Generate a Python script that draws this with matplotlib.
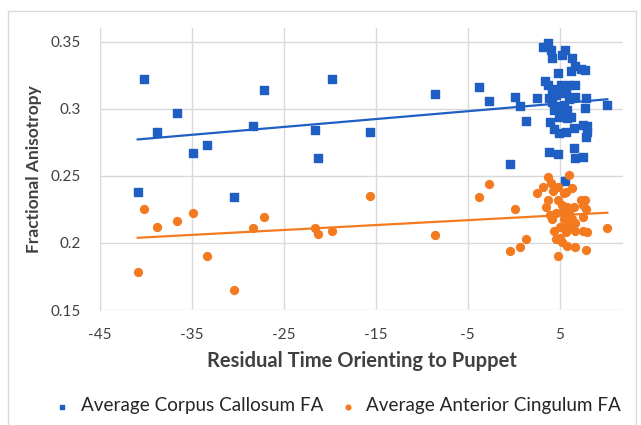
import numpy as np
import matplotlib.pyplot as plt
from matplotlib.patches import Rectangle

# Average Corpus Callosum FA
cc_x = [-40.9, -40.2, -38.8, -36.6, -34.9, -33.4, -30.4, -28.3, -27.2, -21.6, -21.3,
        -19.8, -15.6, -8.6, -3.8, -2.7, -0.4, 0.2, 0.7, 1.4, 2.5, 10.2,
        3.2, 3.7, 4.1, 4.2, 5.6, 5.3, 6.4, 4.8, 6.2, 6.7, 7.3, 7.8, 3.4, 3.7, 4.2,
        5.2, 6.0, 6.7, 3.8, 4.2, 4.6, 5.1, 5.7, 4.8, 5.5, 6.0, 6.7, 7.9, 7.8, 5.1,
        4.4, 5.8, 4.9, 5.8, 6.2, 4.0, 4.4, 4.9, 5.7, 6.6, 7.6, 8.0, 8.0, 7.9, 3.8,
        4.8, 6.6, 7.6, 6.7, 5.6]
cc_fa = [0.238, 0.322, 0.283, 0.297, 0.267, 0.273, 0.234, 0.287, 0.314, 0.284, 0.263,
         0.322, 0.283, 0.311, 0.316, 0.306, 0.259, 0.309, 0.302, 0.291, 0.308, 0.303,
         0.346, 0.349, 0.344, 0.338, 0.344, 0.340, 0.338, 0.327, 0.328, 0.332, 0.330,
         0.329, 0.321, 0.318, 0.315, 0.318, 0.318, 0.318, 0.308, 0.305, 0.310, 0.312,
         0.313, 0.302, 0.303, 0.307, 0.309, 0.308, 0.301, 0.298, 0.299, 0.299, 0.294,
         0.293, 0.294, 0.290, 0.285, 0.282, 0.283, 0.286, 0.288, 0.287, 0.283, 0.279,
         0.268, 0.266, 0.271, 0.264, 0.263, 0.246]

# Average Anterior Cingulum FA
ac_x = [-40.9, -40.2, -38.8, -36.6, -34.9, -33.4, -30.4, -28.3, -27.2, -21.6, -21.3,
        -19.8, -15.6, -8.6, -3.8, -2.7, -0.4, 0.2, 0.7, 1.4, 2.5, 10.2,
        3.7, 3.2, 4.1, 4.8, 4.3, 6.0, 6.3, 5.7, 5.5, 3.7, 4.8, 3.5, 5.3, 5.8, 6.6,
        7.3, 7.8, 7.9, 7.5, 4.0, 4.6, 5.3, 6.0, 5.5, 6.4, 5.8, 6.7, 7.6, 4.2, 5.1,
        6.0, 4.4, 6.7, 7.6, 8.0, 5.7, 4.6, 5.1, 5.3, 5.8, 6.7, 7.9, 4.8]
ac_fa = [0.178, 0.225, 0.212, 0.216, 0.222, 0.190, 0.165, 0.211, 0.219, 0.211, 0.207,
         0.209, 0.235, 0.206, 0.234, 0.244, 0.194, 0.225, 0.197, 0.203, 0.237, 0.211,
         0.249, 0.242, 0.245, 0.242, 0.239, 0.251, 0.241, 0.238, 0.237, 0.232, 0.232,
         0.227, 0.228, 0.227, 0.227, 0.232, 0.232, 0.225, 0.228, 0.221, 0.222, 0.223,
         0.222, 0.218, 0.218, 0.215, 0.215, 0.219, 0.218, 0.212, 0.211, 0.209, 0.209,
         0.209, 0.208, 0.208, 0.203, 0.204, 0.201, 0.198, 0.197, 0.195, 0.190]

x_ticks = [-45, -35, -25, -15, -5, 5]
y_ticks = [0.15, 0.2, 0.25, 0.3, 0.35]
y_tick_labels = ['0.15', '0.2', '0.25', '0.3', '0.35']

BLUE = '#1f5fc4'
ORANGE = '#f47a20'
GRID = '#d9d9d9'
TEXT = '#404040'

plt.rcParams['font.family'] = ['Lato', 'DejaVu Sans']
plt.rcParams['axes.unicode_minus'] = False


def trendline(ax, x, y, color):
    x = np.asarray(x)
    k, b = np.polyfit(x, y, 1)
    xs = np.array([x.min(), x.max()])
    ax.plot(xs, k * xs + b, color=color, lw=1.6, zorder=2)


def main():
    fig = plt.figure(figsize=(6.41, 4.25), dpi=100)
    # light frame around the chart area
    fig.patches.append(Rectangle((8 / 641, -0.01), 628 / 641, 1 - 11 / 425 + 0.01,
                                 transform=fig.transFigure, fill=False,
                                 edgecolor='#d9d9d9', lw=1))
    ax = fig.add_axes([100 / 641, 1 - 310 / 425, 523 / 641, 282 / 425])

    ax.scatter(cc_x, cc_fa, marker='s', s=30, color=BLUE, zorder=3,
               label='Average Corpus Callosum FA')
    ax.scatter(ac_x, ac_fa, marker='o', s=32, color=ORANGE, zorder=3,
               label='Average Anterior Cingulum FA')
    trendline(ax, cc_x, cc_fa, BLUE)
    trendline(ax, ac_x, ac_fa, ORANGE)

    ax.set_xlim(-45, 11.9)
    ax.set_ylim(0.15, 0.3603)
    ax.set_xticks(x_ticks)
    ax.set_yticks(y_ticks)
    ax.set_yticklabels(y_tick_labels)
    ax.grid(True, color=GRID, lw=1, zorder=0)
    ax.set_axisbelow(True)
    for side in ['top', 'right', 'bottom']:
        ax.spines[side].set_visible(False)
    ax.spines['left'].set_color(GRID)
    ax.tick_params(axis='y', length=0, labelsize=11, labelcolor=TEXT, pad=14)
    ax.tick_params(axis='x', length=0, labelsize=11, labelcolor=TEXT, pad=13)

    ax.set_xlabel('Residual Time Orienting to Puppet', fontsize=14.5,
                  fontweight='bold', color=TEXT)
    ax.xaxis.set_label_coords(0.5, -0.145)
    ax.set_ylabel('Fractional Anisotropy', fontsize=12.5, fontweight='bold',
                  color=TEXT)
    ax.yaxis.set_label_coords(-58 / 523, 0.50)

    fig.legend(loc='center', bbox_to_anchor=(332 / 641, 1 - 406 / 425), ncol=2,
               frameon=False, fontsize=13.6, markerscale=0.6, handletextpad=0.0,
               columnspacing=0.3, labelcolor='#262626')

    fig.savefig('out.png', dpi=100)


if __name__ == "__main__":
    main()
